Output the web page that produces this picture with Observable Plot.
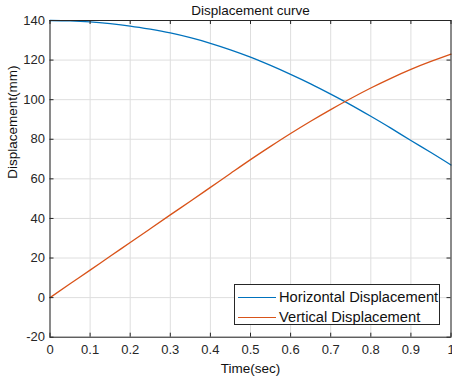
<!DOCTYPE html>
<html>
<head>
<meta charset="utf-8">
<script src="https://cdn.jsdelivr.net/npm/d3@7"></script>
<script src="https://cdn.jsdelivr.net/npm/@observablehq/plot@0.6"></script>
<style>
  html, body { margin: 0; padding: 0; background: white; }
  #wrap { position: relative; width: 452px; height: 378px; font-family: "Liberation Sans", Arial, sans-serif; }
  #legend { position: absolute; left: 234px; top: 284px; width: 206px; height: 41px; border: 1px solid #262626; background: white; box-sizing: border-box; font-size: 14.7px; color: #111; }
  .row { position: absolute; left: 0; height: 20px; display: flex; align-items: center; white-space: nowrap; }
  .sw { width: 38px; height: 0; border-top: 1.3px solid; margin-left: 3px; margin-right: 3px; }
</style>
</head>
<body>
<div id="wrap"></div>
<script>
const title = "Displacement curve";
const xLabel = "Time(sec)";
const yLabel = "Displacement(mm)";
const seriesNames = ["Horizontal Displacement", "Vertical Displacement"];
const seriesColors = ["#0072BD", "#D95319"];

const t = [0, 0.05, 0.1, 0.15, 0.2, 0.25, 0.3, 0.35, 0.4, 0.45, 0.5, 0.55, 0.6, 0.65, 0.7, 0.75, 0.8, 0.85, 0.9, 0.95, 1];
const horizontal = [140, 139.8, 139.3, 138.4, 137.2, 135.6, 133.7, 131.3, 128.5, 125.2, 121.5, 117.3, 112.8, 108.0, 102.8, 97.4, 91.6, 85.6, 79.4, 73.3, 67.0];
const vertical = [0, 7.0, 13.9, 20.9, 27.8, 34.8, 41.8, 48.7, 55.7, 62.7, 69.7, 76.4, 82.9, 89.1, 95.0, 100.6, 105.9, 110.8, 115.3, 119.3, 123.0];

const xTicks = [0, 0.1, 0.2, 0.3, 0.4, 0.5, 0.6, 0.7, 0.8, 0.9, 1];
const xTickLabels = ["0", "0.1", "0.2", "0.3", "0.4", "0.5", "0.6", "0.7", "0.8", "0.9", "1"];
const yTicks = [-20, 0, 20, 40, 60, 80, 100, 120, 140];
const yTickLabels = ["-20", "0", "20", "40", "60", "80", "100", "120", "140"];

const W = 452, H = 378;
const mL = 49.5, mR = 1.5, mT = 20, mB = 41.3;
const plotW = W - mL - mR, plotH = H - mT - mB;
const tickLen = 4;
const axisColor = "#262626";
const gridColor = "#dedede";

const chart = Plot.plot({
  width: W, height: H,
  marginLeft: mL, marginRight: mR, marginTop: mT, marginBottom: mB,
  x: { domain: [0, 1] },
  y: { domain: [-20, 140] },
  style: { fontFamily: "'Liberation Sans', Arial, sans-serif", fontSize: "13px", color: axisColor, background: "white" },
  marks: [
    Plot.ruleX(xTicks, { stroke: gridColor }),
    Plot.ruleY(yTicks, { stroke: gridColor }),
    Plot.line(t, { x: t, y: horizontal, stroke: seriesColors[0], strokeWidth: 1.3, curve: "natural" }),
    Plot.line(t, { x: t, y: vertical, stroke: seriesColors[1], strokeWidth: 1.3, curve: "natural" }),
    Plot.ruleX(xTicks, { stroke: axisColor, insetTop: plotH - tickLen }),
    Plot.ruleX(xTicks, { stroke: axisColor, insetBottom: plotH - tickLen }),
    Plot.ruleY(yTicks, { stroke: axisColor, insetRight: plotW - tickLen }),
    Plot.ruleY(yTicks, { stroke: axisColor, insetLeft: plotW - tickLen }),
    Plot.frame({ stroke: axisColor }),
    Plot.axisX(xTicks, { tickSize: 0, tickPadding: 8, label: null, tickFormat: d => xTickLabels[xTicks.indexOf(d)] }),
    Plot.axisY(yTicks, { tickSize: 0, tickPadding: 5, label: null, tickFormat: d => yTickLabels[yTicks.indexOf(d)] }),
    Plot.text([title], { text: d => d, frameAnchor: "top", lineAnchor: "middle", dy: -10, fontSize: 13.5, fill: "#111" }),
    Plot.text([xLabel], { text: d => d, frameAnchor: "bottom", lineAnchor: "middle", dy: 31.6, fontSize: 13.5, fill: "#111" }),
    Plot.text([yLabel], { text: d => d, frameAnchor: "left", lineAnchor: "middle", dx: -37.5, rotate: -90, fontSize: 13.5, fill: "#111" })
  ]
});

const wrap = document.getElementById("wrap");
wrap.appendChild(chart);

const legend = document.createElement("div");
legend.id = "legend";
seriesNames.forEach((name, i) => {
  const row = document.createElement("div");
  row.className = "row";
  row.style.top = (2 + i * 20) + "px";
  const sw = document.createElement("div");
  sw.className = "sw";
  sw.style.borderTopColor = seriesColors[i];
  const label = document.createElement("span");
  label.textContent = name;
  row.appendChild(sw);
  row.appendChild(label);
  legend.appendChild(row);
});
wrap.appendChild(legend);
</script>
</body>
</html>
